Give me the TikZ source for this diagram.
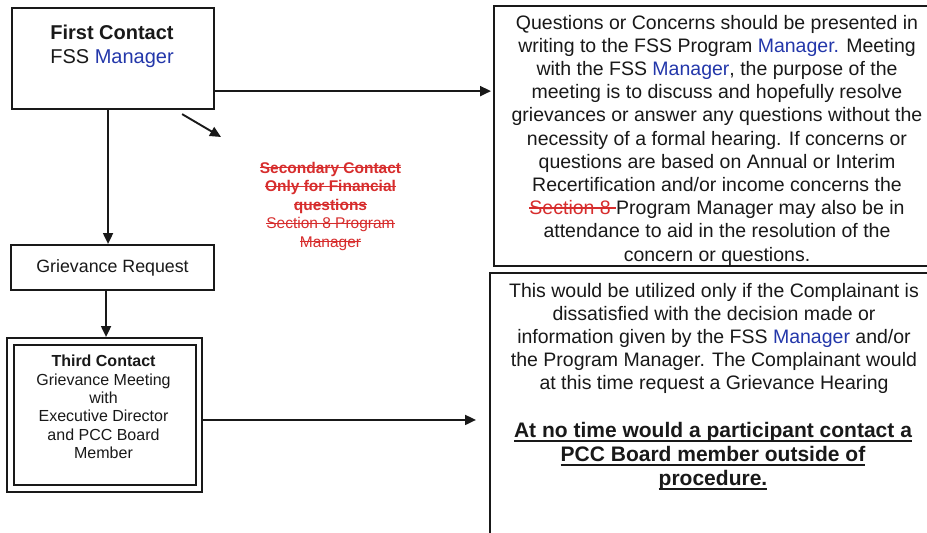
\documentclass[tikz,border=0pt]{standalone}
\usepackage{fontspec}
\setmainfont{Liberation Sans}
\usetikzlibrary{arrows.meta}
\definecolor{mblue}{RGB}{35,55,170}
\definecolor{mred}{RGB}{215,45,45}
\definecolor{ink}{RGB}{25,25,25}
\newcommand\strk[1]{{\setbox0\hbox{#1}\rlap{\rule[0.3em]{\wd0}{0.07em}}\box0}}
\newcommand\uln[1]{{\setbox0\hbox{#1}\rlap{\rule[-0.2em]{\wd0}{0.08em}}\box0}}
\tikzset{
  box/.style={draw=ink, line width=2.1pt, fill=none, inner sep=0pt, anchor=north west},
  arr/.style={draw=ink, line width=1.9pt, -{Triangle[length=11pt,width=10pt]}},
  txt/.style={text=ink, align=center, inner sep=0pt},
}
\begin{document}
\begin{tikzpicture}[x=1pt,y=-1pt]
\useasboundingbox (0,0) rectangle (927,533);
\clip (0,0) rectangle (927,533);
\fill[white] (0,0) rectangle (927,533);

% left column
\node[box, minimum width=202pt, minimum height=101pt] (fc) at (11,7) {};
\node[txt, font={\fontsize{20}{24}\selectfont}] (fct) at (112,46)
  {\textbf{First Contact}\\FSS \textcolor{mblue}{Manager}};

\node[box, minimum width=203pt, minimum height=45pt,
      font={\fontsize{17.8}{21}\selectfont}, text=ink] (gr) at (10,244) {Grievance Request};

\node[draw=ink, line width=1.9pt, double=white, double distance=4.4pt,
      minimum width=188.5pt, minimum height=147pt, inner sep=0pt, anchor=north west]
      (tc) at (9.5,340.5) {};
\node[txt, font={\fontsize{16}{18.4}\selectfont}] (tct) at (103.5,407)
  {\textbf{Third Contact}\\Grievance Meeting\\with\\Executive Director\\and PCC Board\\Member};

% red note
\node[txt, text=mred, font={\fontsize{15.5}{18.5}\selectfont}] (sec) at (330.5,206)
  {\strk{\textbf{Secondary Contact}}\\\strk{\textbf{Only for Financial}}\\\strk{\textbf{questions}}\\\strk{Section 8 Program}\\\strk{Manager}};

% right boxes
\node[box, minimum width=460pt, minimum height=260pt] (rtop) at (493,5) {};
\node[txt, font={\fontsize{19.5}{23.2}\selectfont}] (rtopt) at (717,140)
  {Questions or Concerns should be presented in\\
   writing to the FSS Program \textcolor{mblue}{Manager.} Meeting\\
   with the FSS \textcolor{mblue}{Manager}, the purpose of the\\
   meeting is to discuss and hopefully resolve\\
   grievances or answer any questions without the\\
   necessity of a formal hearing. If concerns or\\
   questions are based on Annual or Interim\\
   Recertification and/or income concerns the\\
   \textcolor{mred}{\strk{Section 8 }}Program Manager may also be in\\
   attendance to aid in the resolution of the\\
   concern or questions.};

\node[box, minimum width=460pt, minimum height=290pt] (rbot) at (489,272) {};
\node[txt, font={\fontsize{19.5}{22.8}\selectfont}] (rbott) at (714,338.5)
  {This would be utilized only if the Complainant is\\
   dissatisfied with the decision made or\\
   information given by the FSS \textcolor{mblue}{Manager} and/or\\
   the Program Manager. The Complainant would\\
   at this time request a Grievance Hearing};
\node[txt, font={\fontsize{21}{24}\selectfont\bfseries}] (rbotb) at (713,456)
  {\uln{At no time would a participant contact a}\\
   \uln{PCC Board member outside of}\\
   \uln{procedure.}};

% connectors
\coordinate (a1) at ([yshift=19pt]fc.south east);
\draw[arr, shorten >=2pt] (a1) -- (a1 -| rtop.west);

\coordinate (d0) at ([xshift=-33pt,yshift=-4pt]fc.south east);
\coordinate (d1) at (221,137);
\draw[arr] (d0) -- (d1);

\coordinate (v1) at ([xshift=-5pt]fc.south);
\draw[arr] (v1) -- (v1 |- gr.north);

\coordinate (v2) at ([xshift=-6.5pt]gr.south);
\draw[arr, shorten >=3.5pt] (v2) -- (v2 |- tc.north);

\coordinate (h2) at ([yshift=-5pt,xshift=3pt]tc.east);
\draw[arr, shorten >=13pt] (h2) -- (h2 -| rbot.west);
\end{tikzpicture}
\end{document}
